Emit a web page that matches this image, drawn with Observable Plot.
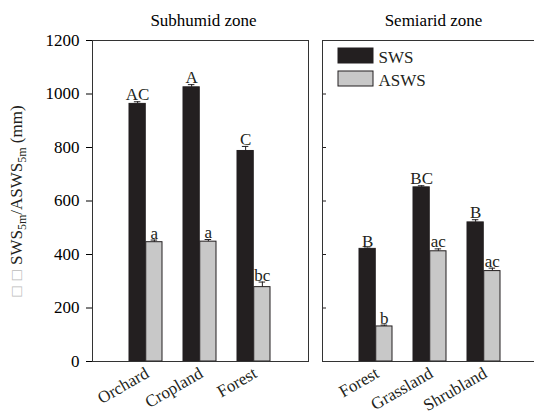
<!DOCTYPE html>
<html><head><meta charset="utf-8">
<script src="https://cdn.jsdelivr.net/npm/d3@7"></script>
<script src="https://cdn.jsdelivr.net/npm/@observablehq/plot@0.6"></script>
<style>html,body{margin:0;padding:0;overflow:hidden;background:#fff}</style>
</head><body><div id="chart"></div>
<script>
const zones = ["Subhumid zone", "Semiarid zone"];
const landUses = {
  "Subhumid zone": ["Orchard", "Cropland", "Forest"],
  "Semiarid zone": ["Forest", "Grassland", "Shrubland"]
};
const swsValues = {"Subhumid zone": [963, 1025, 787], "Semiarid zone": [421, 651, 520]};
const swsErrors = {"Subhumid zone": [8, 10, 17], "Semiarid zone": [3, 6, 10]};
const swsLetters = {"Subhumid zone": ["AC", "A", "C"], "Semiarid zone": ["B", "BC", "B"]};
const aswsValues = {"Subhumid zone": [446, 448, 278], "Semiarid zone": [131, 412, 338]};
const aswsErrors = {"Subhumid zone": [8, 8, 19], "Semiarid zone": [5, 9, 11]};
const aswsLetters = {"Subhumid zone": ["a", "a", "bc"], "Semiarid zone": ["b", "ac", "ac"]};
const seriesNames = ["SWS", "ASWS"];
const yTicks = [0, 200, 400, 600, 800, 1000, 1200];
const yLabel = "□ □ SWS5m/ASWS5m (mm)";

const rows = [];
for (const z of zones) {
  landUses[z].forEach((land, i) => {
    rows.push({zone: z, slot: i, land,
      sws: swsValues[z][i], swsErr: swsErrors[z][i], swsLetter: swsLetters[z][i],
      asws: aswsValues[z][i], aswsErr: aswsErrors[z][i], aswsLetter: aswsLetters[z][i]});
  });
}

const dark = "#231f20", light = "#c8c8c8";
const panelW = 216, panelH = 321;
const pi = 0.38, po = 0.69;
const bw = panelW / (3 - pi + 2 * po) * (1 - pi);
const half = bw / 2, q = bw / 4, cap = 3.5;

const chart = Plot.plot({
  width: 540, height: 414,
  marginLeft: 92, marginRight: 2, marginTop: 40, marginBottom: 53,
  style: {fontFamily: "Liberation Serif", fontSize: "17px", maxWidth: "none", color: "#000", background: "#fff"},
  fx: {domain: zones, paddingInner: 14 / 230, paddingOuter: 0, label: null},
  x: {domain: [0, 1, 2], paddingInner: pi, paddingOuter: po, axis: null},
  y: {domain: [0, 1200], label: null},
  marks: [
    Plot.axisFx({anchor: "top", tickSize: 0, tickPadding: 15, label: null, fontSize: 17, dx: 3}),
    Plot.axisY({ticks: yTicks, tickFormat: d => String(d), tickSize: 6, tickPadding: 7, label: null, fontSize: 17}),
    Plot.barY(rows, {fx: "zone", x: "slot", y: "sws", fill: dark, stroke: dark, strokeWidth: 1, insetRight: half}),
    Plot.barY(rows, {fx: "zone", x: "slot", y: "asws", fill: light, stroke: dark, strokeWidth: 1, insetLeft: half}),
    Plot.ruleX(rows, {fx: "zone", x: "slot", y1: "sws", y2: d => d.sws + d.swsErr, dx: -q, stroke: dark}),
    Plot.ruleX(rows, {fx: "zone", x: "slot", y1: "asws", y2: d => d.asws + d.aswsErr, dx: q, stroke: dark}),
    Plot.tickY(rows, {fx: "zone", x: "slot", y: d => d.sws + d.swsErr, stroke: dark, insetLeft: q - cap, insetRight: bw - q - cap}),
    Plot.tickY(rows, {fx: "zone", x: "slot", y: d => d.asws + d.aswsErr, stroke: dark, insetLeft: bw - q - cap, insetRight: q - cap}),
    Plot.text(rows, {fx: "zone", x: "slot", y: d => d.sws + d.swsErr, text: "swsLetter", dx: -q, dy: -1.5, lineAnchor: "bottom", fontSize: 17, fill: dark}),
    Plot.text(rows, {fx: "zone", x: "slot", y: d => d.asws + d.aswsErr, text: "aswsLetter", dx: q, dy: -1.5, lineAnchor: "bottom", fontSize: 17, fill: dark}),
    Plot.text(rows, {fx: "zone", x: "slot", text: "land", frameAnchor: "bottom", rotate: -30, textAnchor: "end", lineAnchor: "bottom", dx: 4, dy: 15, fontSize: 17, fill: dark}),
    Plot.ruleY(yTicks.map(v => ({zone: zones[1], v})), {fx: "zone", y: "v", stroke: dark, insetRight: panelW - 4}),
    Plot.frame({stroke: "#333", strokeWidth: 1}),
    // legend
    Plot.rect([{zone: zones[1]}], {fx: "zone", fill: dark, stroke: dark, insetLeft: 16, insetRight: panelW - 16 - 35, insetTop: 8, insetBottom: panelH - 8 - 15}),
    Plot.rect([{zone: zones[1]}], {fx: "zone", fill: light, stroke: dark, insetLeft: 16, insetRight: panelW - 16 - 35, insetTop: 31, insetBottom: panelH - 31 - 15}),
    Plot.text([{zone: zones[1], t: seriesNames[0]}], {fx: "zone", text: "t", frameAnchor: "top-left", dx: 56, dy: 10, fontSize: 17, fill: dark}),
    Plot.text([{zone: zones[1], t: seriesNames[1]}], {fx: "zone", text: "t", frameAnchor: "top-left", dx: 56, dy: 33, fontSize: 17, fill: dark}),
    // y label
    Plot.text([{zone: zones[0], t: yLabel}], {fx: "zone", text: "t", frameAnchor: "left", rotate: -90, dx: -76, textAnchor: "middle", lineAnchor: "middle", fontSize: 17, fill: dark})
  ]
});

// rich y label: gray boxes and subscripts
d3.select(chart).selectAll("text").filter(function() { return this.textContent === yLabel; }).each(function() {
  const t = d3.select(this);
  t.text(null);
  t.append("tspan").attr("fill", "#bbb").attr("font-size", 17).text("□");
  t.append("tspan").attr("fill", "#bbb").attr("font-size", 17).attr("dx", 6).text("□");
  t.append("tspan").attr("dx", 5).text("SWS");
  t.append("tspan").attr("font-size", 12).attr("dy", 4).text("5m");
  t.append("tspan").attr("dy", -4).text("/ASWS");
  t.append("tspan").attr("font-size", 12).attr("dy", 4).text("5m");
  t.append("tspan").attr("dy", -4).text(" (mm)");
});

document.getElementById("chart").appendChild(chart);
</script>
</body></html>
